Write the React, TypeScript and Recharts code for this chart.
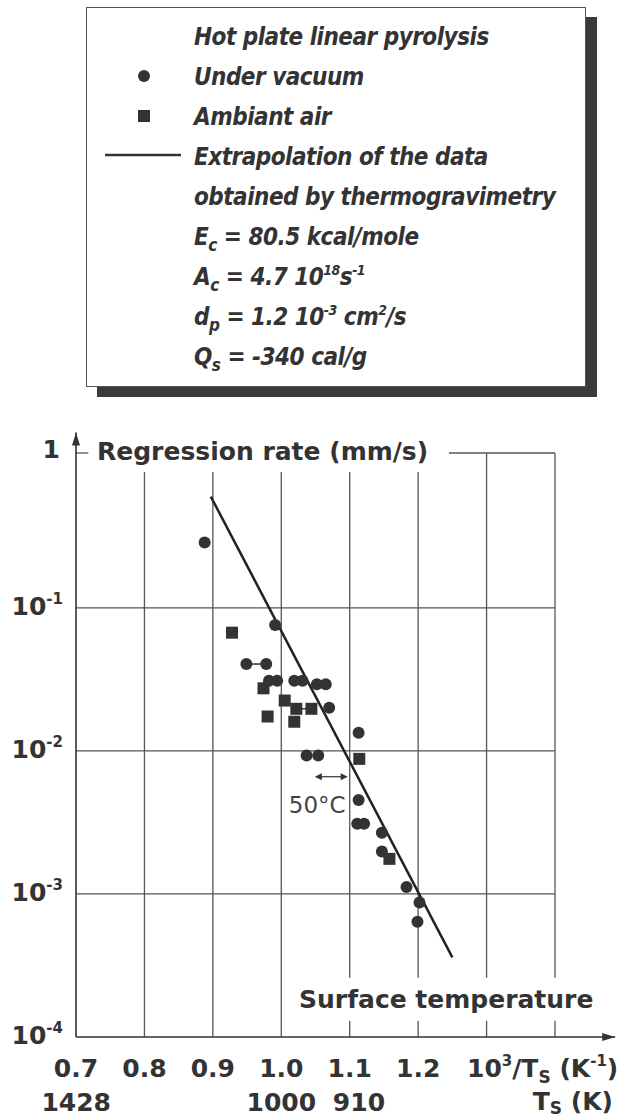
import React from 'react';
import { ComposedChart, Scatter, Line, XAxis, YAxis, ReferenceLine, Label } from 'recharts';

// 10^3/Ts (K^-1) and regression rate (mm/s)
const vacuumX = [0.888, 0.991, 0.949, 0.978, 0.982, 0.994, 1.019, 1.031, 1.052, 1.065, 1.070, 1.113, 1.037, 1.054, 1.113, 1.111, 1.121, 1.147, 1.147, 1.183, 1.202, 1.199];
const vacuumY = [0.286, 0.076, 0.0405, 0.0405, 0.031, 0.031, 0.031, 0.031, 0.0293, 0.0293, 0.020, 0.0134, 0.0093, 0.0093, 0.00454, 0.0031, 0.0031, 0.00268, 0.00198, 0.00112, 0.00087, 0.00064];
const airX = [0.928, 0.974, 0.980, 1.005, 1.022, 1.044, 1.019, 1.114, 1.158];
const airY = [0.0671, 0.0274, 0.0174, 0.0225, 0.0197, 0.0197, 0.0160, 0.0088, 0.00176];
const fitX = [0.897, 1.25];
const fitY = [0.6, 0.00036];

const vacuumLinks = [[2, 3]];
const airLinks = [[4, 5]];

const xTicks = [0.7, 0.8, 0.9, 1.0, 1.1, 1.2];
const xGrid = [0.8, 0.9, 1.0, 1.1, 1.2, 1.3, 1.4];
const yTicks = [1e-4, 1e-3, 1e-2, 1e-1, 1];
const yGrid = [1e-3, 1e-2, 1e-1];
const tempLabels = [1428, 1000, 910];

const seriesNames = ['Under vacuum', 'Ambiant air', 'Extrapolation of the data'];

const X_MIN = 0.7;
const X_MAX = 1.4;
const Y_MIN = 1e-4;
const Y_MAX = 1.21;

const FONT = "'DejaVu Sans', 'Liberation Sans', sans-serif";
const LEGEND_FONT = "'DejaVu Sans Condensed', 'Liberation Sans Narrow', 'DejaVu Sans', sans-serif";
const INK = '#333';
const GRID = '#555';

const toPoints = (xs: number[], ys: number[]) => xs.map((x, i) => ({ x, y: ys[i] }));
const vacuum = toPoints(vacuumX, vacuumY);
const air = toPoints(airX, airY);
const fit = toPoints(fitX, fitY);

const Dot = (p: any) => <circle cx={p.cx} cy={p.cy} r={6} fill={INK} />;
const Square = (p: any) => <rect x={p.cx - 6} y={p.cy - 6} width={12} height={12} fill={INK} />;

const ArrowLine = (p: any) => {
  const { x1, y1, x2, y2 } = p;
  const horizontal = Math.abs(y2 - y1) < 1;
  const head = horizontal
    ? `${x2},${y2} ${x2 - 13},${y2 - 4} ${x2 - 13},${y2 + 4}`
    : `${x2},${y2} ${x2 - 4},${y2 + 13} ${x2 + 4},${y2 + 13}`;
  return (
    <g>
      <line x1={x1} y1={y1} x2={x2} y2={y2} stroke={INK} strokeWidth={1.6} />
      <polygon points={head} fill={INK} />
    </g>
  );
};

const ShiftArrow = (p: any) => {
  const { x1, y1, x2 } = p;
  return (
    <g>
      <line x1={x1 + 2} y1={y1} x2={x2 - 2} y2={y1} stroke={INK} strokeWidth={1.2} />
      <polygon points={`${x1},${y1} ${x1 + 7},${y1 - 3.5} ${x1 + 7},${y1 + 3.5}`} fill={INK} />
      <polygon points={`${x2},${y1} ${x2 - 7},${y1 - 3.5} ${x2 - 7},${y1 + 3.5}`} fill={INK} />
      <text x={x2 - 2} y={y1 + 36} textAnchor="end" fontFamily={FONT} fontSize={23} fill="#444">
        50°C
      </text>
    </g>
  );
};

const YTick = (props: any) => {
  const { x, y, payload } = props;
  const exp = Math.round(Math.log10(payload.value));
  if (exp === 0) {
    return (
      <text x={x - 16} y={y - 7} textAnchor="end" fontFamily={FONT} fontWeight="bold" fontSize={25} fill={INK}>
        1
      </text>
    );
  }
  return (
    <text x={x - 13} y={y + 7} textAnchor="end" fontFamily={FONT} fontWeight="bold" fontSize={25} fill={INK}>
      10
      <tspan dy={-11} fontSize={15}>
        {exp}
      </tspan>
    </text>
  );
};

const XTick = (props: any) => {
  const { x, y, payload } = props;
  return (
    <text x={x} y={y + 40} textAnchor="middle" fontFamily={FONT} fontWeight="bold" fontSize={25} fill={INK}>
      {payload.value.toFixed(1)}
    </text>
  );
};

const TTick = (props: any) => {
  const { x, y, payload, index } = props;
  // the last label sits a little right of its tick in the original
  const shift = index === tempLabels.length - 1 ? 10 : 0;
  return (
    <text x={x + shift} y={y + 26} textAnchor="middle" fontFamily={FONT} fontWeight="bold" fontSize={25} fill={INK}>
      {Math.round(1000 / payload.value)}
    </text>
  );
};

const gridSegments = () => {
  const segs: { x: number; y: number }[][] = [];
  xGrid.forEach((v) => {
    const top = v > 1.25 ? Y_MAX : 0.89;
    if (v > 1.05) {
      segs.push([{ x: v, y: Y_MIN }, { x: v, y: 1.3e-4 }]);
      segs.push([{ x: v, y: 2.6e-4 }, { x: v, y: top }]);
    } else {
      segs.push([{ x: v, y: Y_MIN }, { x: v, y: top }]);
    }
  });
  yGrid.forEach((v) => segs.push([{ x: X_MIN, y: v }, { x: X_MAX, y: v }]));
  segs.push([{ x: 1.245, y: Y_MAX }, { x: X_MAX, y: Y_MAX }]);
  segs.push([{ x: X_MIN, y: Y_MAX }, { x: 0.718, y: Y_MAX }]);
  return segs;
};

const LegendBox = () => {
  const tx = 107;
  const base = (i: number) => 37 + 40 * i;
  const t = {
    fontFamily: LEGEND_FONT,
    fontStretch: 'condensed',
    fontWeight: 'bold',
    fontStyle: 'italic',
    fontSize: 24,
    letterSpacing: '-0.5px',
    fill: INK,
  } as any;
  return (
    <div
      style={{
        position: 'absolute',
        left: 86,
        top: 7,
        width: 500,
        height: 380,
        boxSizing: 'border-box',
        border: '1.5px solid #555',
        boxShadow: '11px 10px 0 #3a3a3a',
        background: '#fff',
      }}
    >
      <svg width={497} height={377} style={{ position: 'absolute', left: 0, top: 0 }}>
        <text x={tx} y={base(0)} style={t}>Hot plate linear pyrolysis</text>
        <circle cx={57} cy={base(1) - 9} r={6} fill={INK} />
        <text x={tx} y={base(1)} style={t}>{seriesNames[0]}</text>
        <rect x={51} y={base(2) - 15} width={12} height={12} fill={INK} />
        <text x={tx} y={base(2)} style={t}>{seriesNames[1]}</text>
        <line x1={18} y1={base(3) - 10} x2={94} y2={base(3) - 10} stroke={INK} strokeWidth={2.5} />
        <text x={tx} y={base(3)} style={t}>{seriesNames[2]}</text>
        <text x={tx} y={base(4)} style={t}>obtained by thermogravimetry</text>
        <text x={tx} y={base(5)} style={t}>
          E<tspan dy={6} fontSize={17}>c</tspan>
          <tspan dy={-6}> = 80.5 kcal/mole</tspan>
        </text>
        <text x={tx} y={base(6)} style={t}>
          A<tspan dy={6} fontSize={17}>c</tspan>
          <tspan dy={-6}> = 4.7 10</tspan>
          <tspan dy={-10} fontSize={14}>18</tspan>
          <tspan dy={10}>s</tspan>
          <tspan dy={-10} fontSize={14}>-1</tspan>
        </text>
        <text x={tx} y={base(7)} style={t}>
          d<tspan dy={6} fontSize={17}>p</tspan>
          <tspan dy={-6}> = 1.2 10</tspan>
          <tspan dy={-10} fontSize={14}>-3</tspan>
          <tspan dy={10}> cm</tspan>
          <tspan dy={-10} fontSize={14}>2</tspan>
          <tspan dy={10}>/s</tspan>
        </text>
        <text x={tx} y={base(8)} style={t}>
          Q<tspan dy={6} fontSize={17}>s</tspan>
          <tspan dy={-6}> = -340 cal/g</tspan>
        </text>
      </svg>
    </div>
  );
};

const bold = { fontFamily: FONT, fontWeight: 'bold', fontSize: 25, fill: INK } as any;

export default function App() {
  return (
    <div style={{ position: 'absolute', left: 0, top: 0, width: 617, height: 1120, background: '#fff' }}>
      <LegendBox />
      <div style={{ position: 'absolute', left: 0, top: 0 }}>
        <ComposedChart width={617} height={1120} margin={{ top: 453, right: 62, bottom: 0, left: 0 }}>
          <XAxis
            dataKey="x"
            type="number"
            domain={[X_MIN, X_MAX]}
            ticks={xTicks}
            interval={0}
            tick={<XTick />}
            tickSize={0}
            tickMargin={0}
            axisLine={false}
            tickLine={false}
            height={48}
            allowDataOverflow
          >
            <Label
              content={(p: any) => {
                const vb = p.viewBox;
                return (
                  <g>
                    <text x={vb.x + 223} y={vb.y - 29} style={bold}>Surface temperature</text>
                    <text x={vb.x + 391} y={vb.y + 40} style={bold}>
                      10<tspan dy={-11} fontSize={15}>3</tspan>
                      <tspan dy={11}>/T</tspan>
                      <tspan dy={6} fontSize={17}>S</tspan>
                      <tspan dy={-6}> (K</tspan>
                      <tspan dy={-11} fontSize={15}>-1</tspan>
                      <tspan dy={11}>)</tspan>
                    </text>
                  </g>
                );
              }}
            />
          </XAxis>
          <XAxis
            xAxisId="t"
            dataKey="x"
            type="number"
            domain={[X_MIN, X_MAX]}
            ticks={tempLabels.map((t) => 1000 / t)}
            interval={0}
            tick={<TTick />}
            tickSize={0}
            tickMargin={0}
            axisLine={false}
            tickLine={false}
            height={35}
            allowDataOverflow
          >
            <Label
              content={(p: any) => {
                const vb = p.viewBox;
                return (
                  <text x={vb.x + 537} y={vb.y + 25} textAnchor="end" style={bold}>
                    T<tspan dy={4} fontSize={17}>S</tspan>
                    <tspan dy={-4}> (K)</tspan>
                  </text>
                );
              }}
            />
          </XAxis>
          <YAxis
            dataKey="y"
            type="number"
            scale="log"
            domain={[Y_MIN, Y_MAX]}
            ticks={yTicks}
            interval={0}
            tick={<YTick />}
            tickSize={0}
            tickMargin={0}
            axisLine={false}
            tickLine={false}
            width={76}
            allowDataOverflow
          >
            <Label
              content={(p: any) => {
                const vb = p.viewBox;
                return (
                  <text x={vb.x + vb.width + 21} y={vb.y + 7} style={bold}>
                    Regression rate (mm/s)
                  </text>
                );
              }}
            />
          </YAxis>

          {gridSegments().map((s, i) => (
            <ReferenceLine key={`g${i}`} segment={s} stroke={GRID} strokeWidth={1.3} ifOverflow="visible" />
          ))}

          <ReferenceLine
            segment={[{ x: X_MIN, y: Y_MIN }, { x: 1.488, y: Y_MIN }]}
            ifOverflow="visible"
            shape={<ArrowLine />}
          />
          <ReferenceLine
            segment={[{ x: X_MIN, y: Y_MIN }, { x: X_MIN, y: 1.68 }]}
            ifOverflow="visible"
            shape={<ArrowLine />}
          />

          {vacuumLinks.map(([a, b], i) => (
            <ReferenceLine key={`vl${i}`} segment={[vacuum[a], vacuum[b]]} stroke={INK} strokeWidth={1.5} />
          ))}
          {airLinks.map(([a, b], i) => (
            <ReferenceLine key={`al${i}`} segment={[air[a], air[b]]} stroke={INK} strokeWidth={1.5} />
          ))}

          <ReferenceLine
            segment={[{ x: 1.049, y: 0.0066 }, { x: 1.097, y: 0.0066 }]}
            ifOverflow="visible"
            shape={<ShiftArrow />}
          />

          <Line
            data={fit}
            dataKey="y"
            type="linear"
            stroke="#222"
            strokeWidth={2.5}
            dot={false}
            activeDot={false}
            isAnimationActive={false}
            name={seriesNames[2]}
          />
          <Scatter data={vacuum} dataKey="y" shape={<Dot />} isAnimationActive={false} name={seriesNames[0]} />
          <Scatter data={air} dataKey="y" shape={<Square />} isAnimationActive={false} name={seriesNames[1]} />
        </ComposedChart>
      </div>
    </div>
  );
}
